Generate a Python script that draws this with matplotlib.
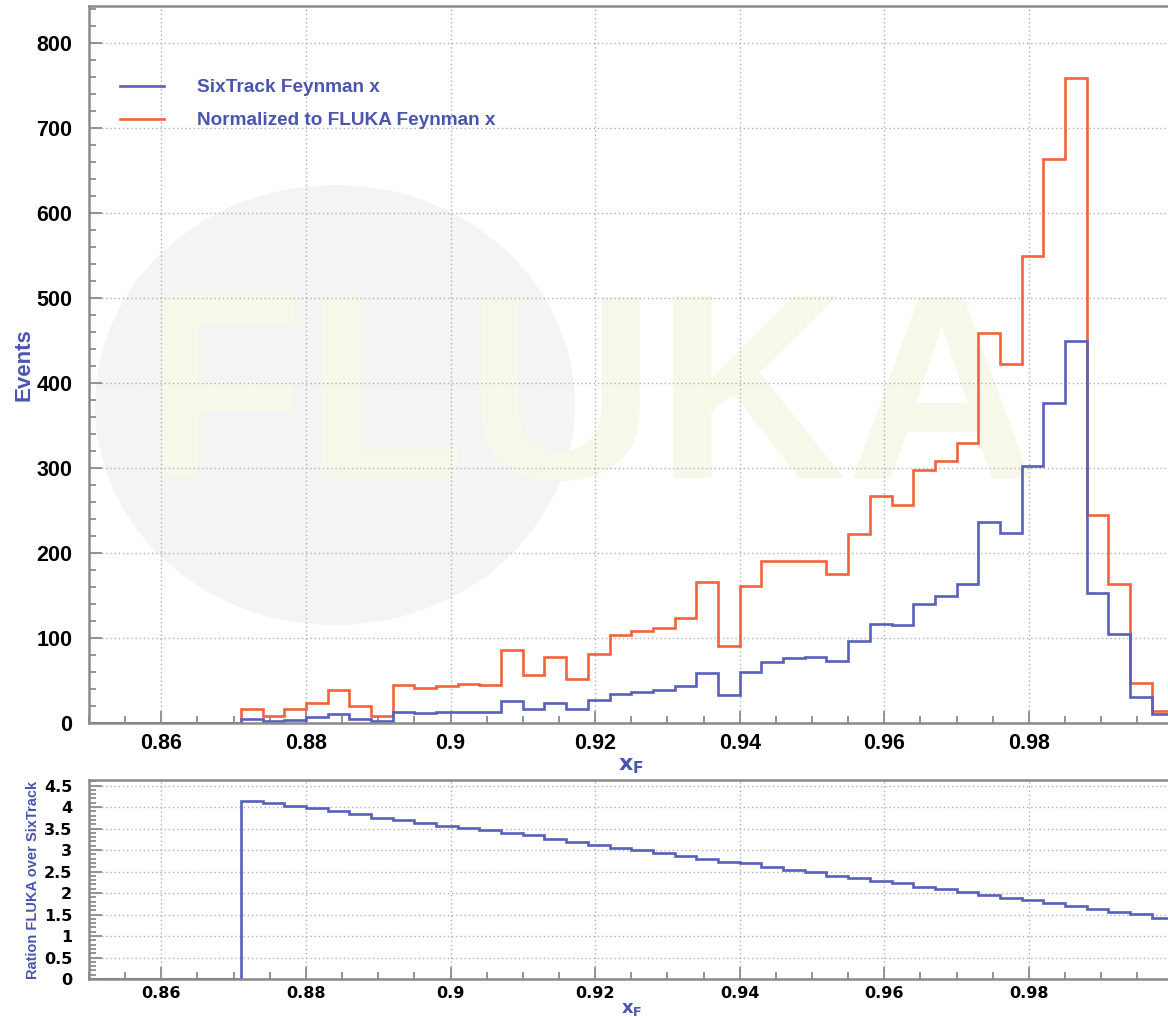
import numpy as np
import matplotlib
matplotlib.use('Agg')
import matplotlib.pyplot as plt
from matplotlib.patches import Ellipse
from matplotlib.ticker import MultipleLocator

plt.rcParams['font.family'] = ['Liberation Sans', 'DejaVu Sans']

# binning of the xF histograms (0.003 wide bins)
x_min, x_max, n_bins = 0.85, 1.0, 50
edges = np.linspace(x_min, x_max, n_bins + 1)

sixtrack = [0, 0, 0, 0, 0, 0, 0,
            4.5, 2, 4, 7.5, 10.5, 5, 2, 12.5, 11.5, 12.5,
            13.5, 13.5, 26, 17, 24, 16, 26.5, 34, 37, 39,
            43.5, 58.5, 33, 59.5, 72, 76, 78, 73, 96, 117,
            115, 140, 149, 164, 236, 223, 302, 377, 449, 153,
            105, 31, 10]

fluka_norm = [0, 0, 0, 0, 0, 0, 0,
              16, 8.5, 16.5, 24, 39, 20, 8, 44.5, 41, 43.5,
              45.5, 45, 86, 56.5, 78, 51.5, 81, 104, 108.5, 111.5,
              123, 165.5, 90, 161, 190, 190, 190.5, 175, 222, 267,
              256, 298, 308, 329, 459, 422, 549, 663, 759, 245,
              164, 46.5, 14]

ratio = [0, 0, 0, 0, 0, 0, 0,
         4.15, 4.10, 4.02, 3.98, 3.91, 3.83, 3.75, 3.69, 3.64, 3.57,
         3.51, 3.46, 3.40, 3.34, 3.26, 3.19, 3.12, 3.04, 2.99, 2.93,
         2.86, 2.79, 2.73, 2.69, 2.60, 2.53, 2.48, 2.40, 2.34, 2.28,
         2.23, 2.15, 2.09, 2.02, 1.95, 1.89, 1.83, 1.76, 1.70, 1.63,
         1.57, 1.51, 1.41]

blue = '#5860bb'
orange = '#f4623a'
label_blue = '#4a55b0'
axis_gray = '#8a8a8a'

W, H = 1168, 1017
fig = plt.figure(figsize=(W / 100, H / 100), dpi=100)

# faint FLUKA watermark in the background
bg = fig.add_axes([0, 0, 1, 1], zorder=0)
bg.set_xlim(0, W)
bg.set_ylim(H, 0)
bg.axis('off')
bg.add_patch(Ellipse((335, 405), 480, 440, color='#f4f4f4', lw=0))
bg.text(590, 410, 'FLUKA', fontsize=190, fontweight='bold', color='#f7f7ea',
        ha='center', va='center')


def px_axes(left, top, right, bottom):
    return [left / W, 1 - bottom / H, (right - left) / W, (bottom - top) / H]


def style_axes(ax, ymajor, yminor, ypad, xpad):
    ax.set_facecolor('none')
    ax.xaxis.set_major_locator(MultipleLocator(0.02))
    ax.xaxis.set_minor_locator(MultipleLocator(0.005))
    ax.yaxis.set_major_locator(MultipleLocator(ymajor))
    ax.yaxis.set_minor_locator(MultipleLocator(yminor))
    ax.tick_params(which='both', direction='in', color=axis_gray, width=1.3,
                   top=False, right=False)
    ax.tick_params(which='major', length=9)
    ax.tick_params(which='minor', length=5)
    ax.tick_params(axis='y', pad=ypad)
    ax.tick_params(axis='x', pad=xpad)
    for sp in ax.spines.values():
        sp.set_color(axis_gray)
        sp.set_linewidth(1.8)
    ax.grid(True, which='major', color='#b0b0b0', linestyle=(0, (1, 2)), lw=1)
    ax.set_axisbelow(True)


xt = [0.86, 0.88, 0.90, 0.92, 0.94, 0.96, 0.98]
xt_labels = ['0.86', '0.88', '0.9', '0.92', '0.94', '0.96', '0.98']

# main histogram panel
ax1 = fig.add_axes(px_axes(89, 6, 1173.5, 723), zorder=1)
ax1.stairs(fluka_norm, edges, baseline=None, color=orange, lw=1.9,
           label='Normalized to FLUKA Feynman x')
ax1.stairs(sixtrack, edges, baseline=None, color=blue, lw=1.9,
           label='SixTrack Feynman x')
ax1.set_xlim(x_min, x_max)
ax1.set_ylim(0, 843.5)
style_axes(ax1, 100, 20, 12, 7)
ax1.set_xticks(xt)
ax1.set_xticklabels(xt_labels, fontweight='bold', fontsize=15.5)
ax1.set_yticks(np.arange(0, 801, 100))
ax1.set_yticklabels([str(v) for v in range(0, 801, 100)],
                    fontweight='bold', fontsize=15.5)
ax1.set_ylabel('Events', color=label_blue, fontsize=16, fontweight='bold',
               labelpad=1)
ax1.set_xlabel(r'$\mathbf{x_F}$', color=label_blue, fontsize=16, labelpad=1)

handles, labels = ax1.get_legend_handles_labels()
leg = ax1.legend(handles[::-1], labels[::-1], loc='upper left',
                 bbox_to_anchor=(0.0286, 0.898), frameon=False,
                 borderpad=0, borderaxespad=0, handlelength=2.3,
                 handletextpad=1.75, labelspacing=0.82,
                 prop={'weight': 'bold', 'size': 13.7}, labelcolor=label_blue)

# ratio panel
ax2 = fig.add_axes(px_axes(89, 780, 1173.5, 979), zorder=1)
ax2.stairs(ratio, edges, baseline=None, color=blue, lw=1.9)
ax2.set_xlim(x_min, x_max)
ax2.set_ylim(0, 4.63)
style_axes(ax2, 0.5, 0.1, 12, 5)
ax2.set_xticks(xt)
ax2.set_xticklabels(xt_labels, fontweight='bold', fontsize=11.5,
                    family='DejaVu Sans')
ax2.set_yticks(np.arange(0, 4.51, 0.5))
ax2.set_yticklabels(['0', '0.5', '1', '1.5', '2', '2.5', '3', '3.5', '4', '4.5'],
                    fontweight='bold', fontsize=11.5, family='DejaVu Sans')
ax2.set_ylabel('Ration FLUKA over SixTrack', color=label_blue, fontsize=10.5,
               fontweight='bold', labelpad=3)
ax2.set_xlabel(r'$\mathbf{x_F}$', color=label_blue, fontsize=13, labelpad=0)

fig.savefig('out.png', dpi=100)
